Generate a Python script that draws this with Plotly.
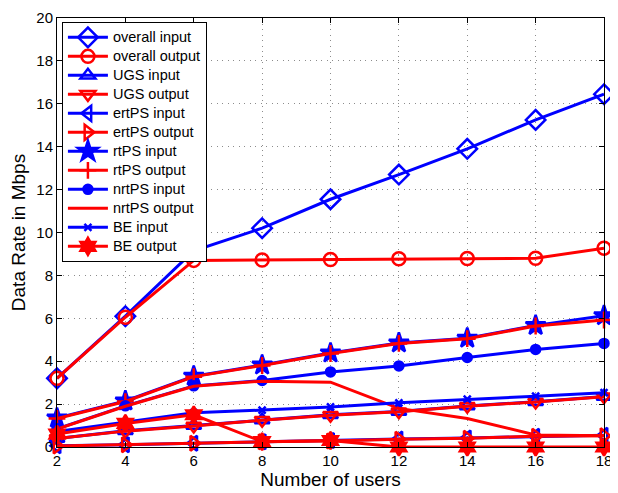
import plotly.graph_objects as go

users = [2, 4, 6, 8, 10, 12, 14, 16, 18]

overall_in = [3.2, 6.1, 9.15, 10.2, 11.55, 12.7, 13.9, 15.25, 16.45]
overall_out = [3.2, 6.05, 8.7, 8.72, 8.74, 8.78, 8.79, 8.8, 9.27]
ugs_in = [0.4, 0.76, 1.0, 1.26, 1.5, 1.66, 1.91, 2.11, 2.36]
ugs_out = [0.4, 0.74, 0.98, 1.25, 1.48, 1.64, 1.9, 2.1, 2.34]
ertps_in = [0.06, 0.1, 0.18, 0.25, 0.3, 0.37, 0.42, 0.5, 0.55]
ertps_out = [0.05, 0.1, 0.17, 0.24, 0.28, 0.36, 0.41, 0.5, 0.52]
rtps_in = [1.35, 2.15, 3.3, 3.82, 4.38, 4.85, 5.07, 5.67, 6.12]
rtps_out = [1.33, 2.12, 3.28, 3.8, 4.36, 4.83, 5.05, 5.64, 5.92]
nrtps_in = [0.85, 1.92, 2.85, 3.1, 3.5, 3.78, 4.17, 4.55, 4.83]
nrtps_out = [0.83, 1.9, 2.83, 3.07, 3.02, 1.8, 1.33, 0.56, 0.52]
be_in = [0.72, 1.15, 1.6, 1.72, 1.87, 2.06, 2.23, 2.37, 2.53]
be_out = [0.6, 1.1, 1.5, 0.25, 0.3, 0.0, 0.0, 0.0, 0.0]

x_ticks = [2, 4, 6, 8, 10, 12, 14, 16, 18]
y_ticks = [0, 2, 4, 6, 8, 10, 12, 14, 16, 18, 20]

BLUE = "#0000FF"
RED = "#FF0000"

series = [
    ("overall input", overall_in, BLUE, "diamond-open", 15),
    ("overall output", overall_out, RED, "circle-open", 13),
    ("UGS input", ugs_in, BLUE, "triangle-up-open", 13),
    ("UGS output", ugs_out, RED, "triangle-down-open", 13),
    ("ertPS input", ertps_in, BLUE, "triangle-left-open", 13),
    ("ertPS output", ertps_out, RED, "triangle-right-open", 13),
    ("rtPS input", rtps_in, BLUE, "star", 15),
    ("rtPS output", rtps_out, RED, "cross-thin-open", 12),
    ("nrtPS input", nrtps_in, BLUE, "circle", 9),
    ("nrtPS output", nrtps_out, RED, None, 0),
    ("BE input", be_in, BLUE, "x-thin-open", 7),
    ("BE output", be_out, RED, "hexagram", 13),
]

fig = go.Figure()
for name, vals, col, sym, size in series:
    label = '<span style="font-size:14.5px">' + name + '</span>'
    if sym is None:
        fig.add_trace(go.Scatter(x=users, y=vals, name=label, mode="lines",
                                 line=dict(color=col, width=3), cliponaxis=False))
    else:
        fig.add_trace(go.Scatter(
            x=users, y=vals, name=label, mode="lines+markers",
            line=dict(color=col, width=3),
            marker=dict(symbol=sym, size=size, color=col,
                        line=dict(color=col, width=2.5)),
            cliponaxis=False))

axis_common = dict(
    showline=True, linecolor="black", linewidth=1, mirror="ticks",
    ticks="inside", ticklen=5, tickcolor="black",
    showgrid=True, gridcolor="#8c8c8c", griddash="1px,4.5px", gridwidth=1,
    zeroline=False, tickfont=dict(size=15, color="black"), automargin=False,
)

# page body has an 8px default margin; figure is sized to fit the window
fig.update_layout(
    width=610, height=485,
    margin=dict(l=49, r=14, t=10, b=46),
    paper_bgcolor="white", plot_bgcolor="white",
    font=dict(family="Liberation Sans, Arial, sans-serif", color="black"),
    xaxis=dict(range=[2, 18], tickvals=x_ticks,
               title=dict(text="Number of users", font=dict(size=19), standoff=2),
               **axis_common),
    yaxis=dict(range=[0, 20], tickvals=y_ticks,
               title=dict(text="Data Rate in Mbps", font=dict(size=19), standoff=6),
               **axis_common),
    legend=dict(x=0.009, y=0.991, xanchor="left", yanchor="top",
                bgcolor="white", bordercolor="black", borderwidth=1,
                font=dict(size=11.3), tracegroupgap=0, itemwidth=40),
    showlegend=True,
)

fig.write_html("out.html")
